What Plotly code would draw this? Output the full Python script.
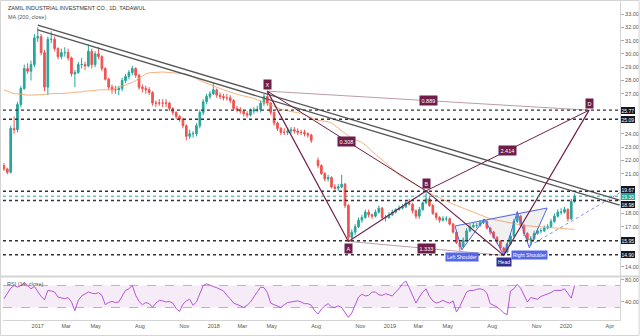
import plotly.graph_objects as go
import pandas as pd

# ---------------- data (weekly bars) ----------------
week_start = "2016-10-23"
n_weeks = 170

opens = [21.6,21.35,21.1,24.4,24.3,26.2,27.4,28.9,28.7,29.2,
31.2,31.3,30.1,27.5,31.1,31.1,30.4,29.8,30.1,30.1,
29.7,28.5,28.6,29.2,29.2,29.1,30.2,29.2,30.0,29.8,
28.9,28.1,27.5,27.3,27.3,27.4,28.0,28.3,28.6,28.9,
28.4,27.5,27.4,27.3,27.1,26.3,26.3,26.3,26.3,26.3,
25.9,25.6,25.3,25.1,24.6,23.8,24.0,24.0,24.6,25.6,
26.4,26.8,27.0,27.3,26.9,26.8,26.7,26.7,26.5,25.9,
25.8,25.7,25.5,25.4,25.7,25.8,25.8,26.3,26.8,26.3,
25.6,24.8,24.4,24.1,24.1,24.2,24.3,24.2,24.1,24.1,
24.0,23.9,None,22.0,21.6,21.0,20.6,20.7,20.0,19.9,
20.0,20.2,18.6,16.2,16.6,17.0,17.5,17.7,18.1,17.9,
17.8,18.1,18.4,17.7,17.7,17.9,18.1,18.3,18.4,18.5,
18.8,18.7,18.2,17.8,18.3,18.8,19.1,18.6,18.0,17.7,
17.5,17.6,17.6,17.2,16.6,15.8,15.5,16.0,16.7,17.0,
17.1,17.1,17.3,17.4,16.9,16.6,16.2,15.9,15.4,15.1,
15.7,16.3,17.4,17.8,17.1,16.5,16.0,16.1,16.5,16.7,
16.7,16.9,17.0,17.4,17.8,18.1,18.1,18.3,17.6,18.9]

closes = [21.35,21.1,24.4,24.3,26.2,27.4,28.9,28.7,29.2,31.2,
31.3,30.1,27.5,31.1,31.1,30.4,29.8,30.1,30.1,29.7,
28.5,28.6,29.2,29.2,29.1,30.2,29.2,30.0,29.8,28.9,
28.1,27.5,27.3,27.3,27.4,28.0,28.3,28.6,28.9,28.4,
27.5,27.4,27.3,27.1,26.3,26.3,26.3,26.3,26.3,25.9,
25.6,25.3,25.1,24.6,23.8,24.0,24.0,24.6,25.6,26.4,
26.8,27.0,27.3,26.9,26.8,26.7,26.7,26.5,25.9,25.8,
25.7,25.5,25.4,25.7,25.8,25.8,26.3,26.8,26.3,25.6,
24.8,24.4,24.1,24.1,24.2,24.3,24.2,24.1,24.1,24.0,
23.9,23.5,None,21.6,21.0,20.6,20.7,20.0,19.9,20.0,
20.2,18.6,16.2,16.6,17.0,17.5,17.7,18.1,17.9,17.8,
18.1,18.4,17.7,17.7,17.9,18.1,18.3,18.4,18.5,18.8,
18.7,18.2,17.8,18.3,18.8,19.1,18.6,18.0,17.7,17.5,
17.6,17.6,17.2,16.6,15.8,15.5,16.0,16.7,17.0,17.1,
17.1,17.3,17.4,16.9,16.6,16.2,15.9,15.4,15.1,15.7,
16.3,17.4,17.8,17.1,16.5,16.0,16.1,16.5,16.7,16.7,
16.9,17.0,17.4,17.8,18.1,18.1,18.3,17.6,18.9,19.3]

highs = [21.8,21.45,24.6,25.3,26.4,27.6,29.2,29.3,29.5,31.5,
32.0,31.5,30.3,31.3,31.7,31.3,30.5,30.4,30.5,30.4,
29.8,28.8,29.4,29.7,29.4,30.7,30.4,30.2,30.5,29.9,
29.0,28.2,27.7,27.6,27.6,28.2,28.5,28.8,29.1,29.0,
28.5,27.7,27.6,27.5,27.2,26.5,26.6,26.6,26.6,26.4,
26.0,25.7,25.4,25.2,24.7,24.3,24.2,24.8,25.8,26.6,
27.0,27.2,27.8,27.4,27.1,27.0,27.0,26.9,26.6,26.1,
26.0,25.8,25.7,25.9,26.0,26.1,26.5,27.0,27.2,26.4,
25.7,24.9,24.5,24.4,24.4,24.5,24.5,24.4,24.3,24.3,
24.1,24.0,None,22.2,21.7,21.1,20.9,20.8,20.2,20.2,
20.9,20.3,18.7,16.8,17.2,17.7,17.9,18.3,18.3,18.0,
18.3,18.6,18.5,17.9,18.1,18.3,18.4,18.6,18.7,19.0,
19.1,18.8,18.3,18.5,18.9,19.7,19.3,18.7,18.1,17.8,
17.8,17.8,17.7,17.3,16.7,15.9,16.2,16.9,17.2,17.3,
17.3,17.5,17.6,17.5,17.0,16.7,16.3,16.0,15.5,15.8,
16.5,17.6,18.2,17.9,17.2,16.6,16.3,16.7,16.9,16.9,
17.1,17.2,17.6,18.0,18.3,18.4,18.5,18.4,19.1,19.5]

lows = [21.2,20.95,21.0,24.0,24.1,26.0,27.3,28.5,28.0,29.0,
30.9,29.9,27.2,26.9,30.8,30.2,29.6,29.6,29.8,29.5,
28.3,27.5,28.5,28.9,28.8,29.0,28.9,29.0,29.6,28.7,
28.0,27.3,27.0,27.0,26.9,27.2,27.8,28.1,28.4,28.2,
27.3,27.1,27.0,26.9,26.1,26.0,26.1,26.0,26.0,25.7,
25.4,25.1,24.9,24.4,23.5,23.6,23.7,23.8,24.4,25.4,
26.2,26.6,26.9,26.7,26.6,26.5,26.5,26.3,25.8,25.6,
25.5,25.3,25.2,25.3,25.5,25.6,25.6,26.1,26.1,25.4,
24.6,24.2,23.9,23.9,23.9,24.0,24.0,23.9,23.9,23.8,
23.7,23.3,None,21.4,20.9,20.4,20.4,19.9,19.7,19.7,
19.9,18.4,15.9,16.0,16.4,16.9,17.3,17.6,17.7,17.6,
17.7,18.0,17.5,17.4,17.6,17.8,18.0,18.2,18.3,18.4,
18.6,18.0,17.6,17.6,18.2,18.7,18.5,17.9,17.5,17.3,
17.4,17.4,17.1,16.5,15.7,15.2,15.4,15.9,16.6,16.9,
16.9,17.0,17.2,16.8,16.4,16.1,15.7,15.2,14.85,15.0,
15.6,16.2,17.3,16.9,16.3,15.9,15.6,16.0,16.4,16.5,
16.6,16.8,16.9,17.3,17.7,17.9,18.0,17.4,17.5,18.8]

ma200 = [27.3,27.2,27.1,27.0,27.0,26.95,26.9,26.9,26.9,26.9,
26.9,26.9,26.95,27.0,27.0,27.0,27.0,27.05,27.05,27.05,
27.1,27.1,27.1,27.15,27.2,27.2,27.25,27.25,27.3,27.3,
27.3,27.3,27.3,27.4,27.48,27.56,27.65,27.75,27.85,28.0,
28.15,28.3,28.5,28.58,28.6,28.62,28.64,28.64,28.62,28.6,
28.6,28.6,28.58,28.56,28.5,28.4,28.3,28.15,28.0,27.9,
27.78,27.65,27.55,27.45,27.38,27.3,27.22,27.12,27.04,26.97,
26.9,26.85,26.8,26.76,26.66,26.56,26.45,26.36,26.25,26.15,
26.05,25.95,25.85,25.77,25.72,25.68,25.63,25.59,25.53,25.42,
25.32,25.21,25.11,25.0,24.97,24.93,24.9,24.8,24.6,24.45,
24.25,24.05,23.85,23.65,23.55,23.45,23.35,23.15,22.9,22.7,
22.45,22.25,22.0,21.8,21.6,21.35,21.1,20.9,20.75,20.6,
20.4,20.25,20.1,19.95,19.8,19.65,19.5,19.4,19.3,19.15,
19.05,18.95,18.8,18.7,18.6,18.5,18.4,18.3,18.2,18.1,
18.0,17.9,17.8,17.66,17.6,17.55,17.5,17.45,17.4,17.35,
17.3,17.25,17.15,17.12,17.1,17.07,17.05,17.02,17.0,16.98,
16.96,16.94,16.92,16.9,16.9,16.88,16.86,16.84,16.82,16.8]

rsi = [46,55,65,70,67,70,75,70,64,68,
58,50,44,61,60,58,49,47,46,48,
40,24,43,51,55,58,56,55,57,52,
35,39,41,39,40,50,61,64,70,52,
41,35,39,37,30,38,43,42,40,41,
38,28,23,36,42,45,34,40,55,70,
73,70,68,66,63,60,52,46,38,36,
33,30,34,40,50,58,67,66,57,38,
35,33,30,35,39,40,41,42,40,37,
37,34,24,18,27,33,37,31,30,33,
30,21,12,20,36,49,54,51,52,58,
58,53,52,55,53,51,58,64,73,78,
66,52,38,49,58,64,50,42,38,40,
43,40,38,42,22,32,46,58,61,61,
63,64,62,56,37,34,31,26,20,17,
60,64,72,65,52,40,48,47,45,50,
52,54,57,61,61,61,64,55,47,70]

# price levels (horizontal dotted lines) and last price
level_prices = [25.77, 25.09, 19.67, 18.98, 15.95, 14.90]
last_price = 19.30

# trend lines (start/end date, price)
trend_dates = ["2017-01-01", "2020-04-21"]
trend1_prices = [32.17, 19.0]
trend2_prices = [31.80, 18.62]

# XABCD harmonic pattern
xabcd_labels = ["X", "A", "B", "C", "D"]
xabcd_dates = ["2018-04-22", "2018-10-07", "2019-03-17", "2019-08-25", "2020-02-18"]
xabcd_prices = [27.2, 15.9, 19.7, 14.85, 25.77]
ratio_pairs = [(0, 2), (1, 3), (2, 4), (0, 4)]
ratio_texts = ["0.308", "1.333", "2.414", "0.889"]

# head & shoulders
hs_dates = ["2019-05-16", "2019-05-30", "2019-07-16", "2019-08-25", "2019-09-22", "2019-10-17", "2019-11-23"]
hs_prices = [17.06, 15.26, 17.59, 14.85, 18.11, 15.42, 18.41]
hs_proj_dates = ["2019-10-17", "2020-04-21"]
hs_proj_prices = [15.56, 19.54]

# axis ticks
price_ticks = [14, 17, 18, 21, 22, 23, 24, 27, 28, 29, 30, 31, 32, 33]
rsi_ticks = [40, 80]
date_ticks = ["2017-01-01", "2017-03-01", "2017-05-01", "2017-08-01", "2017-11-01",
              "2018-01-01", "2018-03-01", "2018-05-01", "2018-08-01", "2018-11-01",
              "2019-01-01", "2019-03-01", "2019-05-01", "2019-08-01", "2019-11-01",
              "2020-01-01", "2020-04-01"]
date_tick_text = ["2017", "Mar", "May", "Aug", "Nov", "2018", "Mar", "May", "Aug", "Nov",
                  "2019", "Mar", "May", "Aug", "Nov", "2020", "Apr"]

# ---------------- figure ----------------
FONT = "Liberation Sans"
MAROON = "#6e1e48"
BLUE = "#5566e6"
dates = pd.date_range(week_start, periods=n_weeks, freq="7D")

fig = go.Figure()

fig.add_trace(go.Candlestick(
    x=dates, open=opens, high=highs, low=lows, close=closes,
    increasing=dict(line=dict(color="#26a69a", width=1), fillcolor="#26a69a"),
    decreasing=dict(line=dict(color="#ef5350", width=1), fillcolor="#ef5350"),
    whiskerwidth=0, showlegend=False, hoverinfo="skip"))

fig.add_trace(go.Scatter(x=dates, y=ma200, mode="lines",
                         line=dict(color="#f7a66a", width=1), opacity=0.85,
                         showlegend=False, hoverinfo="skip"))

# trend lines
for tp in (trend1_prices, trend2_prices):
    fig.add_trace(go.Scatter(x=trend_dates, y=tp, mode="lines",
                             line=dict(color="#555555", width=1.3),
                             showlegend=False, hoverinfo="skip"))

# head & shoulders fills
for a, b, c in [(0, 1, 2), (2, 3, 4), (4, 5, 6)]:
    fig.add_trace(go.Scatter(x=[hs_dates[a], hs_dates[b], hs_dates[c], hs_dates[a]],
                             y=[hs_prices[a], hs_prices[b], hs_prices[c], hs_prices[a]],
                             mode="lines", fill="toself", fillcolor="rgba(140,140,150,0.13)",
                             line=dict(width=0), showlegend=False, hoverinfo="skip"))
fig.add_trace(go.Scatter(x=hs_dates, y=hs_prices, mode="lines",
                         line=dict(color=BLUE, width=1), showlegend=False, hoverinfo="skip"))
fig.add_trace(go.Scatter(x=[hs_dates[0], hs_dates[6]], y=[hs_prices[0], hs_prices[6]], mode="lines",
                         line=dict(color=BLUE, width=1), showlegend=False, hoverinfo="skip"))
fig.add_trace(go.Scatter(x=hs_proj_dates, y=hs_proj_prices, mode="lines",
                         line=dict(color="#7f8cf0", width=1, dash="dot"),
                         showlegend=False, hoverinfo="skip"))

# XABCD
for (i, j), txt in zip(ratio_pairs, ratio_texts):
    light = txt in ("1.333", "0.889")
    fig.add_trace(go.Scatter(x=[xabcd_dates[i], xabcd_dates[j]], y=[xabcd_prices[i], xabcd_prices[j]],
                             mode="lines",
                             line=dict(color="rgba(110,30,72,0.45)" if light else MAROON, width=1),
                             showlegend=False, hoverinfo="skip"))
fig.add_trace(go.Scatter(x=xabcd_dates, y=xabcd_prices, mode="lines",
                         line=dict(color=MAROON, width=1.2), showlegend=False, hoverinfo="skip"))

# RSI
fig.add_trace(go.Scatter(x=dates, y=rsi, mode="lines", yaxis="y2",
                         line=dict(color="#b455d6", width=1), showlegend=False, hoverinfo="skip"))

shapes = []
for lv in level_prices:
    shapes.append(dict(type="line", xref="paper", x0=0, x1=1, yref="y", y0=lv, y1=lv,
                       line=dict(color="#333333", width=1.4, dash="dot"), layer="above"))
shapes.append(dict(type="line", xref="paper", x0=0, x1=1, yref="y", y0=last_price, y1=last_price,
                   line=dict(color="#26a69a", width=1, dash="dot"), layer="above"))
# RSI band
shapes.append(dict(type="rect", xref="paper", x0=0, x1=1, yref="y2", y0=30, y1=70,
                   fillcolor="rgba(156,39,176,0.09)", line=dict(width=0), layer="below"))
for b in (30, 70):
    shapes.append(dict(type="line", xref="paper", x0=0, x1=1, yref="y2", y0=b, y1=b,
                       line=dict(color="#c9a6d9", width=1, dash="dash"), layer="below"))
# pane separator and frame
shapes.append(dict(type="line", xref="paper", x0=-0.005, x1=1.032, yref="paper", y0=0.1365, y1=0.1365,
                   line=dict(color="#d4d4d4", width=2)))
shapes.append(dict(type="rect", xref="paper", x0=-0.004, x1=1.031, yref="paper", y0=-0.0485, y1=1.0015,
                   line=dict(color="#d4d4d4", width=1), fillcolor="rgba(0,0,0,0)"))

annotations = []
# header texts
annotations.append(dict(text="ZAMIL INDUSTRIAL INVESTMENT CO., 1D, TADAWUL", xref="paper", yref="paper",
                        x=0.005, y=0.978, xanchor="left", yanchor="middle", showarrow=False,
                        font=dict(family=FONT, size=5.5, color="#333333")))
annotations.append(dict(text="MA (200, close)", xref="paper", yref="paper",
                        x=0.005, y=0.95, xanchor="left", yanchor="middle", showarrow=False,
                        font=dict(family=FONT, size=5.5, color="#555555")))
annotations.append(dict(text="RSI (14, close)", xref="paper", yref="paper",
                        x=0.004, y=0.113, xanchor="left", yanchor="middle", showarrow=False,
                        font=dict(family=FONT, size=5.5, color="#555555")))

# right axis price boxes (stacked like the platform does when they crowd)
box_shift = {25.77: 0, 25.09: 0, 19.67: 1.5, 18.98: -4, 15.95: 0, 14.90: 0}
for lv in level_prices:
    annotations.append(dict(text="%.2f" % lv, xref="paper", x=1.001, xanchor="left", yref="y", y=lv,
                            yanchor="middle", yshift=box_shift[lv], showarrow=False,
                            bgcolor="#131722", borderpad=0.5, borderwidth=0,
                            font=dict(family=FONT, size=5, color="white")))
annotations.append(dict(text="%.2f" % last_price, xref="paper", x=1.001, xanchor="left", yref="y",
                        y=last_price, yanchor="middle", yshift=-0.5, showarrow=False,
                        bgcolor="#26a69a", borderpad=0.5, borderwidth=0,
                        font=dict(family=FONT, size=5, color="white")))

# XABCD labels
label_shift = {"X": 7, "A": -7, "B": 7, "D": 7}
for lab, d, p in zip(xabcd_labels, xabcd_dates, xabcd_prices):
    if lab not in label_shift:
        continue
    annotations.append(dict(text=lab, x=d, y=p, xref="x", yref="y", showarrow=False,
                            yshift=label_shift[lab], bgcolor=MAROON, borderpad=1.5,
                            font=dict(family=FONT, size=5.5, color="white")))
for (i, j), txt in zip(ratio_pairs, ratio_texts):
    d0, d1 = pd.Timestamp(xabcd_dates[i]), pd.Timestamp(xabcd_dates[j])
    annotations.append(dict(text=txt, x=d0 + (d1 - d0) / 2, y=(xabcd_prices[i] + xabcd_prices[j]) / 2,
                            xref="x", yref="y", showarrow=False, bgcolor=MAROON, borderpad=1.5,
                            font=dict(family=FONT, size=5.5, color="white")))

# H&S labels
for k, txt, col in [(1, "Left Shoulder", BLUE), (3, "Head", "#2e2f8f"), (5, "Right Shoulder", BLUE)]:
    annotations.append(dict(text=txt, x=hs_dates[k], y=hs_prices[k], xref="x", yref="y",
                            showarrow=False, yshift=-7, bgcolor=col, borderpad=1,
                            font=dict(family=FONT, size=5, color="white")))

fig.update_layout(
    width=640, height=336,
    margin=dict(l=3, r=20, t=1, b=16),
    paper_bgcolor="white", plot_bgcolor="white",
    showlegend=False,
    font=dict(family=FONT, size=6, color="#555555"),
    shapes=shapes, annotations=annotations,
    xaxis=dict(range=["2016-10-21", "2020-04-22"], domain=[0, 1], anchor="y2",
               tickvals=date_ticks, ticktext=date_tick_text, ticks="",
               tickfont=dict(family=FONT, size=5.5, color="#555555"),
               showgrid=False, zeroline=False, showline=True, linecolor="#d4d4d4",
               rangeslider=dict(visible=False)),
    yaxis=dict(domain=[0.138, 1], range=[13.3, 33.98], side="right", anchor="x",
               tickvals=price_ticks, ticktext=["%.2f" % t for t in price_ticks],
               ticks="outside", ticklen=3, tickcolor="#aaaaaa",
               tickfont=dict(family=FONT, size=5.5, color="#555555"),
               showgrid=False, zeroline=False, showline=True, linecolor="#d4d4d4"),
    yaxis2=dict(domain=[0, 0.134], range=[7.3, 84.9], side="right", anchor="x",
                tickvals=rsi_ticks, ticktext=["%.2f" % t for t in rsi_ticks],
                ticks="outside", ticklen=3, tickcolor="#aaaaaa",
                tickfont=dict(family=FONT, size=5.5, color="#555555"),
                showgrid=False, zeroline=False, showline=True, linecolor="#d4d4d4"),
)

fig.write_html("out.html")
